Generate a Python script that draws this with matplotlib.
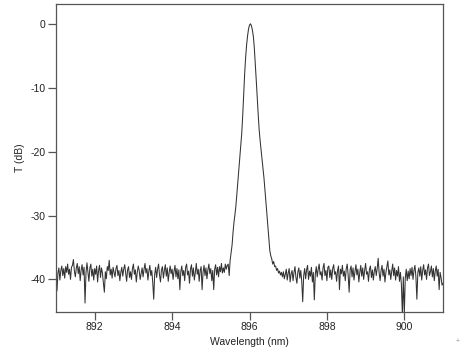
import numpy as np
import matplotlib
matplotlib.use("Agg")
import matplotlib.pyplot as plt

plt.rcParams['font.family'] = ['Liberation Sans', 'DejaVu Sans']

# Wavelength grid (nm): 891 .. 901, 401 samples
wl_start, wl_stop, n_pts = 891.0, 901.0, 401

# Noise floor left of the peak (891.000 .. 895.475 nm)
left_noise = [
    -39.5, -41.8, -39.0, -38.2, -40.1, -38.6, -37.9, -39.4, -38.3, -39.8, -38.0, -38.9, -37.6, -39.2, -38.4, -40.0, -38.1, -37.8, -36.9, -38.7,
    -39.6, -38.2, -37.5, -39.1, -38.0, -40.2, -38.5, -37.7, -39.3, -38.1, -43.7, -39.0, -37.4, -38.8, -40.3, -38.2, -37.6, -39.5, -38.4, -40.1,
    -38.3, -39.2, -37.9, -40.4, -38.6, -37.8, -39.7, -38.2, -39.0, -40.6, -42.0, -38.8, -39.9, -38.0, -38.6, -37.0, -39.3, -38.4, -39.8, -38.1,
    -38.9, -39.6, -38.3, -37.8, -39.4, -38.6, -40.2, -38.9, -38.1, -39.5, -38.4, -37.7, -39.0, -40.3, -38.5, -38.0, -39.7, -38.8, -40.0, -38.3,
    -37.6, -39.2, -38.5, -40.4, -38.9, -37.9, -38.6, -40.0, -39.1, -38.2, -39.6, -38.4, -37.5, -39.0, -38.3, -40.1, -38.7, -37.8, -39.4, -38.6,
    -40.5, -43.1, -39.2, -38.1, -39.7, -38.4, -37.6, -39.3, -40.4, -38.5, -38.0, -39.8, -38.6, -37.7, -39.5, -38.2, -40.3, -38.9, -37.9, -39.1,
    -38.4, -40.0, -38.7, -37.8, -39.6, -38.3, -39.9, -38.5, -41.6, -38.8, -37.9, -39.4, -38.6, -40.2, -38.1, -37.6, -39.3, -38.7, -40.6, -38.4,
    -37.7, -39.5, -38.2, -40.1, -38.9, -37.5, -39.2, -38.4, -40.3, -38.6, -38.0, -41.6, -38.9, -37.8, -39.4, -38.2, -39.9, -38.5, -37.6, -39.1,
    -38.3, -40.2, -38.6, -41.6, -38.4, -37.7, -39.3, -38.1, -39.6, -38.0, -38.8, -37.5, -39.0, -38.2, -38.9, -37.6, -38.4, -37.8, -37.6, -39.4,
]

# Transmission peak (895.500 .. 896.750 nm)
peak = [
    -37.0, -35.8, -34.6, -32.6, -31.0, -29.8, -28.4, -26.5, -24.4, -22.6,
    -20.9, -19.1, -17.1, -14.3, -11.1, -7.8, -5.3, -3.3, -1.9, -0.8,
    -0.2, 0.0, -0.3, -1.0, -2.0, -3.8, -6.3, -8.9, -11.6, -14.2,
    -16.6, -18.3, -19.8, -21.3, -22.8, -24.2, -26.0, -27.9, -29.8, -31.8,
    -33.6, -35.5, -36.3, -36.8, -37.6, -37.2, -38.0, -37.9, -38.6, -38.3,
    -39.0,
]

# Noise floor right of the peak (896.775 .. 901.000 nm)
right_noise = [
    -38.7, -39.3, -38.9, -39.6, -38.8, -39.9, -39.2, -38.4, -40.1, -39.0, -38.3, -40.4, -39.1, -38.6, -40.2, -38.9, -38.0, -39.7, -40.6, -38.8,
    -38.2, -39.8, -38.6, -40.3, -43.5, -39.4, -38.3, -39.9, -38.5, -37.8, -40.0, -38.7, -39.5, -38.1, -40.4, -38.9, -43.2, -39.2, -38.0, -39.6,
    -38.4, -37.6, -39.3, -38.8, -40.1, -38.2, -37.5, -39.4, -38.6, -40.2, -38.1, -37.9, -39.7, -38.5, -40.0, -38.3, -37.7, -39.2, -38.8, -40.3,
    -38.6, -37.9, -41.6, -38.4, -39.1, -37.8, -39.5, -38.7, -40.2, -38.3, -37.6, -39.4, -42.0, -38.5, -37.9, -39.6, -38.2, -40.1, -38.8, -37.7,
    -39.3, -38.4, -40.4, -38.9, -37.8, -39.5, -38.2, -40.0, -38.6, -37.5, -39.2, -38.8, -40.3, -38.4, -37.9, -39.7, -38.5, -40.1, -38.7, -38.0,
    -39.4, -38.3, -36.7, -39.0, -40.2, -38.6, -37.8, -39.5, -38.4, -40.4, -38.9, -38.0, -37.1, -39.3, -38.5, -40.0, -38.7, -37.6, -39.4, -38.2,
    -40.1, -38.6, -39.5, -38.0, -40.3, -38.9, -40.8, -45.5, -39.6, -45.5, -39.8, -38.4, -40.2, -38.7, -39.9, -38.3, -39.4, -38.1, -40.0, -38.6,
    -37.8, -39.6, -43.1, -38.9, -38.2, -39.5, -38.0, -40.1, -38.6, -37.7, -39.3, -38.5, -40.0, -38.2, -37.6, -39.4, -38.8, -37.9, -39.6, -38.3,
    -40.2, -38.7, -37.9, -39.5, -38.4, -41.6, -38.9, -39.7, -40.9, -40.6,
]

x_ticks = [892, 894, 896, 898, 900]
y_ticks = [0, -10, -20, -30, -40]
x_label = "Wavelength (nm)"
y_label = "T (dB)"

transmission = np.array(left_noise + peak + right_noise)
wavelength = np.linspace(wl_start, wl_stop, n_pts)
assert len(transmission) == n_pts, len(transmission)

fig = plt.figure(figsize=(4.66, 3.49), dpi=100)
ax = fig.add_axes([56/466, 1-312/349, (443-56)/466, (312-4)/349])

ax.plot(wavelength, transmission, color='#333333', linewidth=0.75)

ax.set_xlim(891, 901)
ax.set_ylim(-45.1, 3.1)
ax.set_xticks(x_ticks)
ax.set_yticks(y_ticks)
ax.set_xticklabels([str(t) for t in x_ticks])
ax.set_yticklabels([str(t) for t in y_ticks])

for s in ax.spines.values():
    s.set_color('#555555')
    s.set_linewidth(0.9)

ax.tick_params(axis='both', direction='out', length=5.5, width=0.9, color='#555555',
               labelsize=7.5, labelcolor='#222222', pad=2)
ax.set_xlabel(x_label, fontsize=7.5, color='#222222', labelpad=3)
ax.set_ylabel(y_label, fontsize=7.5, color='#222222', labelpad=4)

fig.text(458/466, 1-341/349, '+', fontsize=5, color='#999999', ha='center', va='center')

fig.savefig("out.png", dpi=100)
